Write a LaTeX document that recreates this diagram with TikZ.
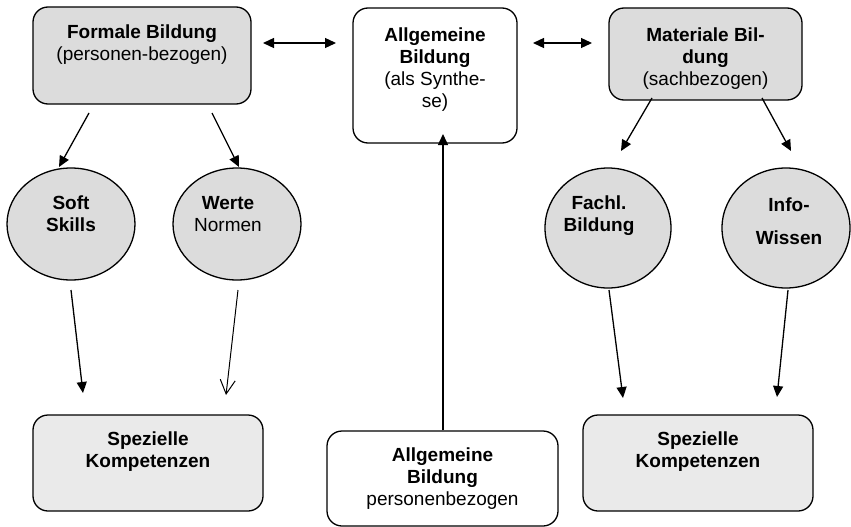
\documentclass[tikz,border=0pt]{standalone}
\usepackage{fontspec}
\setmainfont{Liberation Sans}
\usetikzlibrary{shapes.geometric,arrows.meta,positioning}
\definecolor{boxgray}{HTML}{DCDCDC}
\definecolor{lowgray}{HTML}{EAEAEA}
\tikzset{
  base/.style={draw=black, line width=1.3pt},
  card/.style={base, rounded corners=15pt, inner sep=0pt},
  topcard/.style={card, fill=boxgray},
  lowcard/.style={card, fill=lowgray},
  blob/.style={base, ellipse, fill=boxgray, inner sep=0pt},
  lab/.style={align=center, inner sep=0pt, font=\fontsize{19}{22}\selectfont},
  arr/.style={draw=black, line width=1.3pt, -{Triangle[length=11pt,width=10pt]}},
  twoway/.style={arr, {Triangle[length=11pt,width=10pt]}-{Triangle[length=11pt,width=10pt]}},
  openarr/.style={draw=black, line width=1pt, -{Straight Barb[length=14pt,width=15pt]}},
}

\begin{document}
\begin{tikzpicture}[x=1pt,y=-1pt]
  \useasboundingbox (0,0) rectangle (851,527);

  % top row
  \node[topcard, minimum width=218, minimum height=97] (formal) at (142,55.5) {};
  \node[card, fill=white, minimum width=164, minimum height=135] (synth) at (435,75.5) {};
  \node[topcard, minimum width=193, minimum height=92] (material) at (705.5,54) {};
  \node[lab, below=18pt of formal.north] (formalT) {\textbf{Formale Bildung}\\(personen-bezogen)};
  \node[lab, below=20pt of synth.north] (synthT) {\textbf{Allgemeine}\\\textbf{Bildung}\\(als Synthe-\\se)};
  \node[lab, below=20pt of material.north] (materialT) {\textbf{Materiale Bil-}\\\textbf{dung}\\(sachbezogen)};

  % ellipses
  \node[blob, minimum width=128, minimum height=112] (soft) at (71,224) {};
  \node[blob, minimum width=128, minimum height=112] (werte) at (237,224) {};
  \node[blob, minimum width=126, minimum height=120] (fach) at (608,228) {};
  \node[blob, minimum width=128, minimum height=120] (info) at (786,228) {};
  \node[lab, anchor=north] (softT) at (71,196) {\textbf{Soft}\\\textbf{Skills}};
  \node[lab, anchor=north] (werteT) at (228,196) {\textbf{Werte}\\Normen};
  \node[lab, anchor=north] (fachT) at (599,196) {\textbf{Fachl.}\\\textbf{Bildung}};
  \node[lab, anchor=north] (infoT) at (789,198) {\textbf{Info-}\\[11pt]\textbf{Wissen}};

  % bottom row
  \node[lowcard, minimum width=230, minimum height=96] (specL) at (148,463) {};
  \node[card, fill=white, minimum width=231, minimum height=95] (person) at (442.5,478.5) {};
  \node[lowcard, minimum width=230, minimum height=96] (specR) at (698,463) {};
  \node[lab, below=17pt of specL.north] (specLT) {\textbf{Spezielle}\\\textbf{Kompetenzen}};
  \node[lab, below=17pt of person.north] (personT) {\textbf{Allgemeine}\\\textbf{Bildung}\\personenbezogen};
  \node[lab, below=17pt of specR.north] (specRT) {\textbf{Spezielle}\\\textbf{Kompetenzen}};

  % arrow ends
  \coordinate (a1) at (263,43);   \coordinate (a2) at (336,43);
  \coordinate (b1) at (533,43);   \coordinate (b2) at (592,43);
  \coordinate (f1) at (89,113);   \coordinate (f2) at (59,167);
  \coordinate (f3) at (212,113);  \coordinate (f4) at (239,167);
  \coordinate (m1) at (652,98);   \coordinate (m2) at (621,151);
  \coordinate (m3) at (762,98);   \coordinate (m4) at (791,151);
  \coordinate (s1) at (71,290);   \coordinate (s2) at (83,393);
  \coordinate (w1) at (238,290);  \coordinate (w2) at (226,395);
  \coordinate (c1) at (609,290);  \coordinate (c2) at (623,398);
  \coordinate (i1) at (788,290);  \coordinate (i2) at (777,397);
  \coordinate (p2) at (443,134);

  \draw[twoway] (a1) -- (a2);
  \draw[twoway] (b1) -- (b2);
  \draw[arr] (f1) -- (f2);
  \draw[arr] (f3) -- (f4);
  \draw[arr] (m1) -- (m2);
  \draw[arr] (m3) -- (m4);
  \draw[arr] (s1) -- (s2);
  \draw[openarr] (w1) -- (w2);
  \draw[arr] (c1) -- (c2);
  \draw[arr] (i1) -- (i2);
  \draw[arr] (person.north -| p2) -- (p2);
\end{tikzpicture}
\end{document}
